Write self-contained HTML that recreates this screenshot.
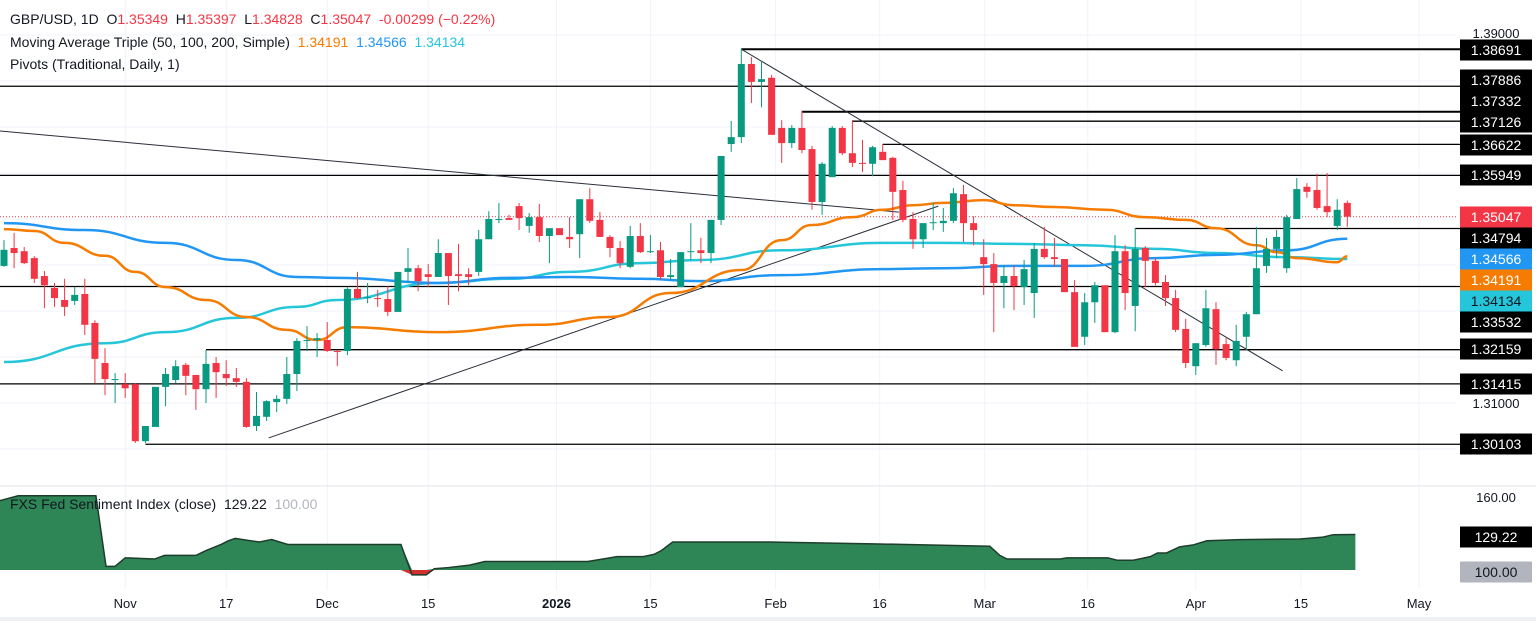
<!DOCTYPE html>
<html><head><meta charset="utf-8">
<style>
html,body{margin:0;padding:0;background:#fff;}
body{width:1536px;height:621px;overflow:hidden;font-family:"Liberation Sans",sans-serif;}
svg{display:block}
.t{font-family:"Liberation Sans",sans-serif;}
</style></head>
<body>
<svg id="chart" width="1536" height="621" viewBox="0 0 1536 621" xmlns="http://www.w3.org/2000/svg">
  <rect x="0" y="0" width="1536" height="621" fill="#ffffff"/>
  <g id="grid"></g>
  <g id="pivots"></g>
  <g id="trend"></g>
  <g id="mas"></g>
  <g id="candles"></g>
  <g id="sent"></g>
  <g id="axis"></g>
  <g id="taxis"></g>
  <g>
    <text class="t" x="10" y="24" font-size="14" fill="#131722">GBP/USD, 1D&#160; O<tspan fill="#f23645">1.35349</tspan>&#160; H<tspan fill="#f23645">1.35397</tspan>&#160; L<tspan fill="#f23645">1.34828</tspan>&#160; C<tspan fill="#f23645">1.35047</tspan>&#160; <tspan fill="#f23645">-0.00299 (−0.22%)</tspan></text>
    <text class="t" x="10" y="47" font-size="14" fill="#131722">Moving Average Triple (50, 100, 200, Simple)&#160; <tspan fill="#f57c00">1.34191</tspan>&#160; <tspan fill="#2196f3">1.34566</tspan>&#160; <tspan fill="#26c6da">1.34134</tspan></text>
    <text class="t" x="10" y="69" font-size="14" fill="#131722">Pivots (Traditional, Daily, 1)</text>
  </g>
</svg>
<script>
const open_ = [13398,13437,13430,13415,13376,13350,13324,13322,13337,13274,13187,13150,13141,13141,13017,13048,13135,13150,13183,13161,13130,13187,13163,13154,13146,13050,13070,13102,13109,13163,13235,13237,13237,13213,13213,13348,13328,13328,13326,13298,13385,13393,13380,13374,13426,13380,13380,13385,13456,13498,13502,13528,13485,13504,13463,13480,13461,13467,13543,13498,13461,13437,13396,13463,13428,13432,13374,13352,13428,13432,13426,13498,13663,13678,13837,13798,13807,13698,13665,13698,13652,13537,13591,13698,13643,13622,13620,13646,13633,13563,13500,13456,13491,13491,13496,13554,13491,13417,13402,13361,13376,13352,13339,13435,13417,13413,13341,13244,13319,13356,13254,13430,13311,13437,13409,13363,13328,13261,13180,13226,13304,13228,13193,13244,13293,13398,13435,13393,13500,13570,13563,13528,13485,13535];
const high_ = [13454,13470,13439,13419,13387,13361,13370,13352,13370,13280,13219,13165,13165,13143,13050,13135,13176,13193,13187,13161,13215,13200,13193,13176,13154,13124,13106,13117,13200,13241,13267,13252,13276,13215,13352,13385,13361,13346,13354,13385,13437,13400,13402,13456,13426,13446,13393,13476,13517,13535,13509,13535,13513,13533,13480,13480,13504,13543,13567,13515,13465,13452,13485,13491,13465,13450,13413,13428,13491,13459,13498,13637,13713,13870,13852,13843,13813,13715,13704,13735,13659,13624,13702,13702,13715,13672,13659,13663,13635,13583,13515,13491,13535,13524,13567,13574,13506,13456,13426,13400,13400,13411,13448,13483,13459,13413,13367,13339,13363,13356,13465,13443,13480,13441,13415,13378,13346,13283,13230,13346,13319,13241,13270,13298,13483,13459,13476,13509,13589,13578,13598,13600,13543,13540];
const low_ = [13396,13393,13402,13361,13306,13309,13289,13313,13248,13143,13117,13100,13111,13013,13013,13048,13093,13143,13117,13085,13100,13111,13137,13135,13046,13039,13061,13080,13098,13126,13213,13200,13211,13180,13204,13326,13317,13309,13289,13298,13361,13343,13352,13374,13313,13343,13356,13376,13456,13491,13498,13476,13470,13450,13404,13465,13437,13415,13491,13461,13417,13393,13393,13426,13426,13367,13367,13352,13411,13404,13404,13487,13646,13665,13752,13743,13683,13622,13654,13643,13520,13509,13591,13639,13613,13602,13593,13628,13498,13493,13435,13437,13476,13472,13491,13450,13443,13335,13254,13306,13302,13313,13285,13413,13396,13341,13222,13226,13274,13254,13252,13302,13256,13352,13356,13311,13254,13176,13161,13222,13183,13193,13180,13215,13293,13383,13415,13383,13500,13546,13520,13504,13476,13483];
const close_ = [13433,13426,13404,13370,13356,13328,13309,13335,13270,13196,13152,13152,13132,13017,13050,13135,13163,13180,13159,13130,13185,13167,13154,13146,13048,13072,13104,13109,13163,13235,13237,13241,13213,13211,13348,13328,13330,13326,13298,13385,13393,13365,13374,13426,13376,13376,13374,13456,13500,13500,13498,13502,13504,13463,13480,13465,13456,13543,13496,13461,13437,13404,13463,13428,13430,13374,13378,13428,13430,13426,13498,13637,13678,13837,13798,13804,13683,13665,13698,13650,13537,13620,13698,13643,13622,13621,13656,13628,13559,13498,13456,13491,13493,13496,13556,13491,13476,13402,13361,13376,13354,13391,13435,13417,13413,13341,13222,13319,13356,13254,13430,13339,13435,13409,13361,13328,13259,13187,13230,13306,13217,13198,13235,13293,13393,13435,13461,13504,13565,13559,13524,13515,13520,13505];

// moving averages (sampled at candle indices)
const ma50Idx = [0,3,6,10,13,16,20,24,28,31,34,43,53,60,66,73,77,80,84,87,90,93,97,100,104,109,113,117,120,124,126,128,132,133];
const ma50Val = [13478,13474,13448,13420,13385,13352,13324,13287,13259,13237,13265,13254,13270,13287,13339,13389,13454,13487,13504,13520,13530,13535,13541,13530,13526,13520,13504,13498,13480,13443,13428,13415,13406,13419];
const ma100Idx = [0,8,16,23,29,33,43,50,56,63,69,77,87,93,100,107,114,120,127,133];
const ma100Val = [13491,13476,13448,13411,13374,13372,13361,13372,13374,13370,13365,13378,13391,13393,13398,13398,13415,13422,13432,13457];
const ma200Idx = [0,10,16,23,29,33,43,50,56,63,69,77,87,93,100,107,114,120,127,133];
const ma200Val = [13189,13230,13254,13285,13309,13324,13361,13370,13385,13404,13411,13432,13448,13448,13446,13443,13435,13426,13417,13413];

// pivots
const pivotVals = [1.38691,1.37886,1.37332,1.37126,1.36622,1.35949,1.34794,1.33532,1.32159,1.31415,1.30103];
const pivotStart = [73,-1,79,84,87,-1,112,-1,20,-1,14];

// sentiment index
const sentIdx = [-0.4,1.4,9.1,10.1,11,12,14.9,15.9,19,20,21.5,22.2,22.9,24.4,25.3,26.5,28.1,39.3,40.4,41.8,42.6,44,46.1,47.6,53.5,57.8,59.3,60.7,63.3,64.4,65.1,66.2,75.7,86,97.6,98.6,99.3,104.6,105.2,109.3,110.2,111.8,113.5,114.2,115.1,116.4,117.7,119.1,122.4,128.3,130.6,131.6,133.8];
const sentVal = [157,161,161,103,103,110,109,112,112,116,121,124,126,124,123,125,121,121,96,96,101,102,104,107,107,107,109,111,111,113,116,123,123,121.5,119.5,112,109,109,110,110,108,108,111,114,114,119,120.5,124,125,125.5,127,129,129.22];

const timeLabels = ["Nov","17","Dec","15","2026","15","Feb","16","Mar","16","Apr","15","May"];
const timeIdx = [12,22,32,42,54.7,64,76.4,86.7,97.1,107.3,118,128.4,140.1];

const NS="http://www.w3.org/2000/svg";
function mk(tag,attrs,parent){const e=document.createElementNS(NS,tag);for(const k in attrs)e.setAttribute(k,attrs[k]);parent.appendChild(e);return e;}
const xOf = i => 4 + i*10.1;
const yOf = p => 35 + (1.39 - p)*4600;
const yPip = v => yOf(v/10000);
const sY = v => 570 - (v-100)*1.217;
const PLOT_R = 1456;

// grid
const grid=document.getElementById('grid');
timeIdx.forEach(i=>{const l=mk('line',{x1:xOf(i),x2:xOf(i),y1:0,y2:590,stroke:'#f0f3fa','stroke-width':1},grid);

});
[1.39,1.38,1.37,1.36,1.35,1.34,1.33,1.32,1.31,1.30].forEach(p=>{const l=mk('line',{x1:0,x2:PLOT_R,y1:yOf(p),y2:yOf(p),stroke:'#f0f3fa','stroke-width':1},grid);

});
const sep=mk('line',{x1:0,x2:1536,y1:486,y2:486,stroke:'#e0e3eb','stroke-width':1},grid);



// pivots
const pv=document.getElementById('pivots');
pivotVals.forEach((p,k)=>{const x1=pivotStart[k]<0?0:xOf(pivotStart[k]);
const l=mk('line',{x1:x1,x2:PLOT_R+4,y1:yOf(p),y2:yOf(p),stroke:'#000','stroke-width':(k===0||k===2)?2:1.3},pv);

});

// trend lines
const tr=document.getElementById('trend');
[[ -0.4,1.36913, 88.6,1.3515],[73,1.38691,126.6,1.3170],[26.2,1.3024,92.5,1.3528]].forEach(t=>{
const l=mk('line',{x1:xOf(t[0]),y1:yOf(t[1]),x2:xOf(t[2]),y2:yOf(t[3]),stroke:'#2a2e39','stroke-width':1},tr);

});

// current price dotted
const cp=mk('line',{x1:0,x2:PLOT_R,y1:yPip(close_[close_.length-1]),y2:yPip(close_[close_.length-1]),stroke:'#f23645','stroke-width':1,'stroke-dasharray':'1 2'},tr);



// MAs
function smooth(pts){let d='M'+pts[0][0]+','+pts[0][1];for(let k=1;k<pts.length;k++){const p0=pts[k-1],p1=pts[k];const mx=(p0[0]+p1[0])/2;d+=' C'+mx+','+p0[1]+' '+mx+','+p1[1]+' '+p1[0]+','+p1[1];}return d;}
const mas=document.getElementById('mas');
[[ma200Idx,ma200Val,'#26c6da','ma-200'],[ma100Idx,ma100Val,'#2196f3','ma-100'],[ma50Idx,ma50Val,'#f57c00','ma-50']].forEach(m=>{
const pts=m[0].map((i,k)=>[xOf(i),yPip(m[1][k])]);
const p=mk('path',{d:smooth(pts),fill:'none',stroke:m[2],'stroke-width':2.5},mas);

});

// candles
const cg=document.getElementById('candles');
open_.forEach((o,i)=>{const c=close_[i];const up=c>=o;const col=up?'#089981':'#f23645';const x=xOf(i);
const w=mk('line',{x1:x,x2:x,y1:yPip(high_[i]),y2:yPip(low_[i]),stroke:col,'stroke-width':1},cg);


const yt=Math.min(yPip(o),yPip(c)),h=Math.max(1,Math.abs(yPip(o)-yPip(c)));
const b=mk('rect',{x:x-3.5,y:yt,width:7,height:h,fill:col},cg);

});

// sentiment panel
const sg=document.getElementById('sent');
const base=sY(100);
let d='M'+xOf(sentIdx[0])+','+base;
sentIdx.forEach((i,k)=>{d+=' L'+xOf(i)+','+Math.min(base,sY(sentVal[k]));});
d+=' L'+xOf(sentIdx[sentIdx.length-1])+','+base+' Z';
const area=mk('path',{d:d,fill:'#2e8555'},sg);


let dn='M'+xOf(sentIdx[0])+','+base;
sentIdx.forEach((i,k)=>{dn+=' L'+xOf(i)+','+Math.max(base,sY(sentVal[k]));});
dn+=' L'+xOf(sentIdx[sentIdx.length-1])+','+base+' Z';
const neg=mk('path',{d:dn,fill:'#d32f2f'},sg);


const ln=mk('path',{d:sentIdx.map((i,k)=>(k?'L':'M')+xOf(i)+','+sY(sentVal[k])).join(' '),fill:'none',stroke:'#1e3d2c','stroke-width':1.5},sg);


const st=mk('text',{x:10,y:509,'font-size':14,fill:'#131722',class:'t'},sg);


st.innerHTML='FXS Fed Sentiment Index (close)&#160; 129.22&#160; <tspan fill="#b2b5be">100.00</tspan>';

// price axis
const ax=document.getElementById('axis');
function axText(txt,y,col){const t=mk('text',{x:1496,y:y+5,'font-size':13,fill:col,'text-anchor':'middle',class:'t'},ax);t.textContent=txt;

}
axText('1.39000',yOf(1.39)-2,'#131722');
axText('1.31000',yOf(1.31),'#131722');
axText('160.00',sY(160),'#131722');
const boxes=[['1.38691',50,'#000','#fff'],['1.37886',80,'#000','#fff'],['1.37332',101,'#000','#fff'],['1.37126',122,'#000','#fff'],['1.36622',145,'#000','#fff'],['1.35949',175,'#000','#fff'],['1.35047',217,'#f23645','#fff'],['1.34794',238,'#000','#fff'],['1.34566',259,'#2196f3','#fff'],['1.34191',280,'#f57c00','#fff'],['1.34134',301,'#26c6da','#131722'],['1.33532',322,'#000','#fff'],['1.32159',349,'#000','#fff'],['1.31415',384,'#000','#fff'],['1.30103',444,'#000','#fff'],['129.22',537,'#000','#fff'],['100.00',572,'#b2b5be','#131722']];
boxes.forEach(b=>{const r=mk('rect',{x:1460,y:b[1]-10.5,width:72,height:21,fill:b[2]},ax);


const t=mk('text',{x:1496,y:b[1]+5,'font-size':14,fill:b[3],'text-anchor':'middle',class:'t'},ax);t.textContent=b[0];

});

// time axis
const ta=document.getElementById('taxis');
timeLabels.forEach((s,k)=>{const t=mk('text',{x:xOf(timeIdx[k]),y:608,'font-size':13,fill:'#131722','text-anchor':'middle','font-weight':s==='2026'?'bold':'normal',class:'t'},ta);t.textContent=s;

});
const bot=mk('rect',{x:0,y:617,width:1536,height:4,fill:'#eef0f4'},ta);


</script>
</body></html>
